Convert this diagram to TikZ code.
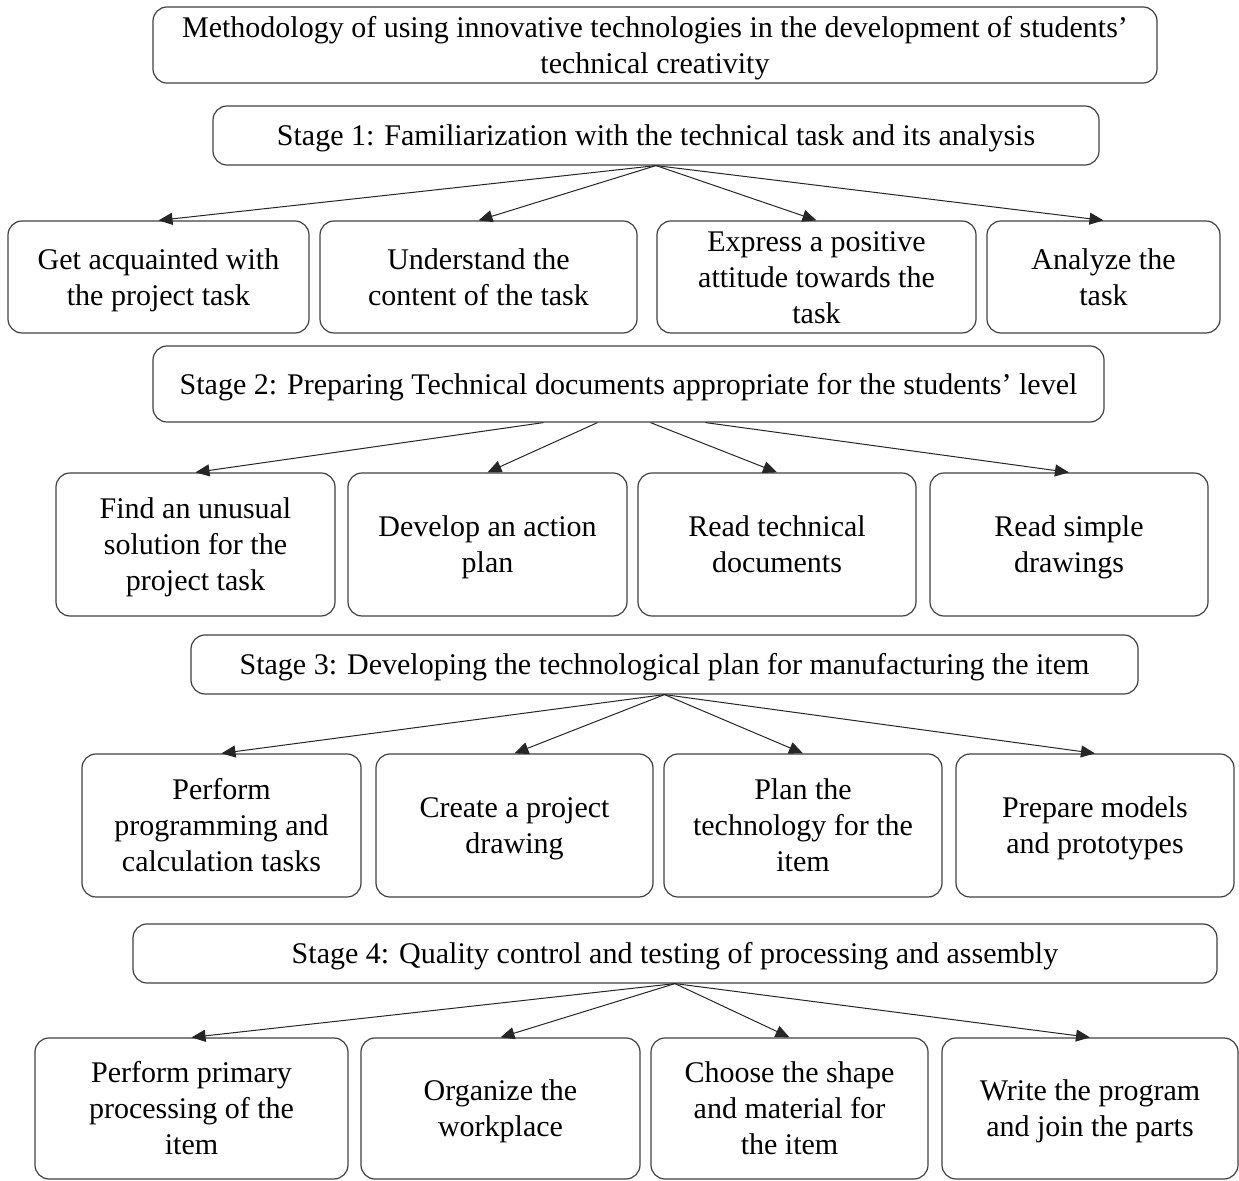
\documentclass[tikz,border=0pt]{standalone}
\usepackage{fontspec}
\setmainfont{Liberation Serif}
\usetikzlibrary{arrows.meta,positioning}
% text of a box, set a little lower in its box
\newcommand{\steptext}[1]{\raisebox{-1.5pt}[\height][\depth]{\begin{tabular}{@{}c@{}}#1\end{tabular}}}

\begin{document}
\begin{tikzpicture}[x=0.5pt, y=-0.5pt,
  stepbox/.style={draw=black!75, line width=0.6pt, rounded corners=7pt,
    inner sep=0pt, font=\fontsize{15pt}{18pt}\selectfont},
  link/.style={-{Triangle[length=7pt, width=6pt]}, line width=0.5pt, black!85}]
\useasboundingbox (0,0) rectangle (1239,1181);
% Title
\node[stepbox, minimum width=502pt, minimum height=38pt] (title) at (655,45)
  {\steptext{Methodology of using innovative technologies in the development of students'\\technical creativity}};
% Stage 1
\node[stepbox, minimum width=443pt, minimum height=29.5pt] (s1) at (656,135.5)
  {\steptext{Stage 1: Familiarization with the technical task and its analysis}};
\node[stepbox, minimum width=150.5pt, minimum height=56pt] (a1) at (158.5,277)
  {\steptext{Get acquainted with\\the project task}};
\node[stepbox, minimum width=158.5pt, minimum height=56pt] (a2) at (478.5,277)
  {\steptext{Understand the\\content of the task}};
\node[stepbox, minimum width=159.5pt, minimum height=56pt] (a3) at (816.5,277)
  {\steptext{Express a positive\\attitude towards the\\task}};
\node[stepbox, minimum width=116.5pt, minimum height=56pt] (a4) at (1103.5,277)
  {\steptext{Analyze the\\task}};
\foreach \n in {a1,a2,a3,a4}
  \draw[link] (s1.south) -- (\n.north);
% Stage 2
\node[stepbox, minimum width=475.5pt, minimum height=38pt] (s2) at (628.5,384)
  {\steptext{Stage 2: Preparing Technical documents appropriate for the students' level}};
\node[stepbox, minimum width=139.5pt, minimum height=71.5pt] (b1) at (195.5,544.5)
  {\steptext{Find an unusual\\solution for the\\project task}};
\node[stepbox, minimum width=139.5pt, minimum height=71.5pt] (b2) at (487.5,544.5)
  {\steptext{Develop an action\\plan}};
\node[stepbox, minimum width=139pt, minimum height=71.5pt] (b3) at (777,544.5)
  {\steptext{Read technical\\documents}};
\node[stepbox, minimum width=139pt, minimum height=71.5pt] (b4) at (1069,544.5)
  {\steptext{Read simple\\drawings}};
\foreach \n/\dx in {b1/-42.5pt, b2/-15.5pt, b3/11pt, b4/38.5pt}
  \draw[link] ([xshift=\dx]s2.south) -- (\n.north);
% Stage 3
\node[stepbox, minimum width=473.5pt, minimum height=29.5pt] (s3) at (664.5,664.5)
  {\steptext{Stage 3: Developing the technological plan for manufacturing the item}};
\node[stepbox, minimum width=139.5pt, minimum height=71.5pt] (c1) at (221.5,825.5)
  {\steptext{Perform\\programming and\\calculation tasks}};
\node[stepbox, minimum width=138.5pt, minimum height=71.5pt] (c2) at (514.5,825.5)
  {\steptext{Create a project\\drawing}};
\node[stepbox, minimum width=139pt, minimum height=71.5pt] (c3) at (803,825.5)
  {\steptext{Plan the\\technology for the\\item}};
\node[stepbox, minimum width=139pt, minimum height=71.5pt] (c4) at (1095,825.5)
  {\steptext{Prepare models\\and prototypes}};
\foreach \n in {c1,c2,c3,c4}
  \draw[link] (s3.south) -- (\n.north);
% Stage 4
\node[stepbox, minimum width=542pt, minimum height=29.5pt] (s4) at (675,953.5)
  {\steptext{Stage 4: Quality control and testing of processing and assembly}};
\node[stepbox, minimum width=156.5pt, minimum height=70.5pt] (d1) at (191.5,1108.5)
  {\steptext{Perform primary\\processing of the\\item}};
\node[stepbox, minimum width=139.5pt, minimum height=70.5pt] (d2) at (500.5,1108.5)
  {\steptext{Organize the\\workplace}};
\node[stepbox, minimum width=138.5pt, minimum height=70.5pt] (d3) at (789.5,1108.5)
  {\steptext{Choose the shape\\and material for\\the item}};
\node[stepbox, minimum width=148pt, minimum height=70.5pt] (d4) at (1090,1108.5)
  {\steptext{Write the program\\and join the parts}};
\foreach \n in {d1,d2,d3,d4}
  \draw[link] (s4.south) -- (\n.north);
\end{tikzpicture}
\end{document}
